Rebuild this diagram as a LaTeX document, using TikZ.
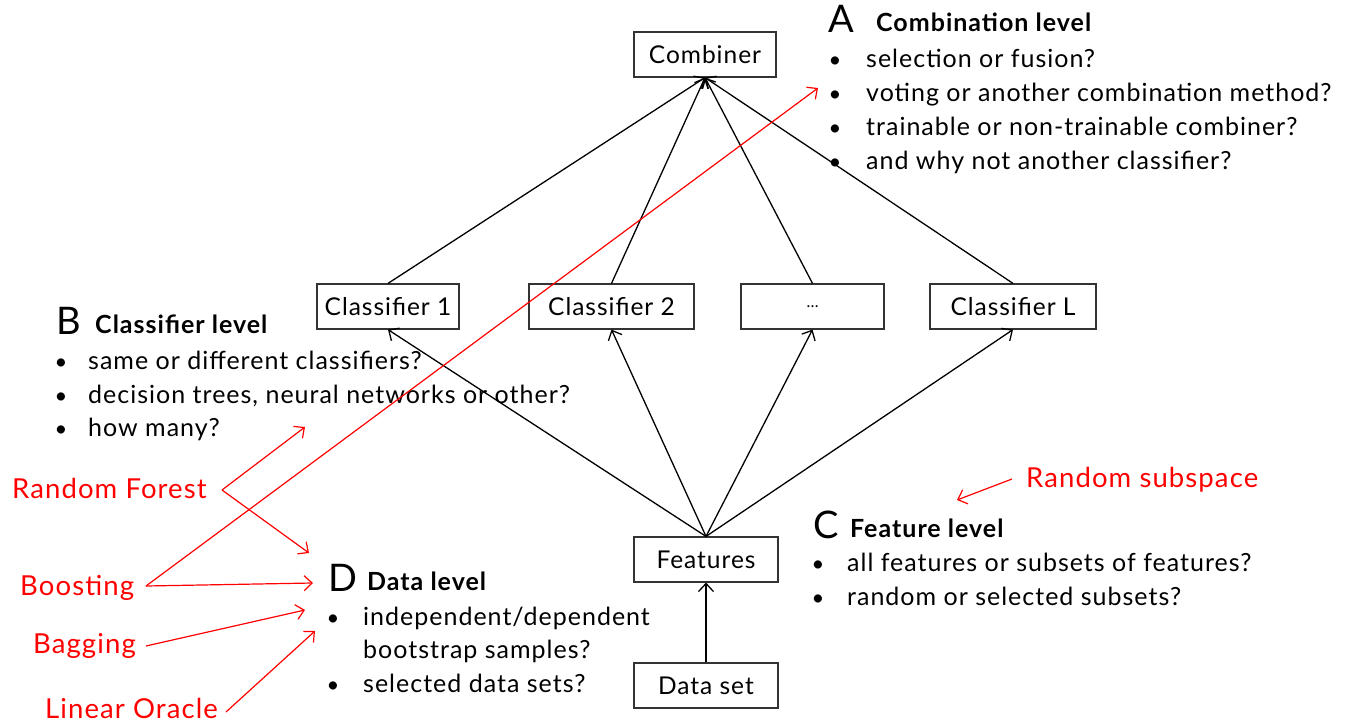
\documentclass[tikz,border=0pt]{standalone}
\usepackage{fontspec}
\setmainfont{Lato}[LetterSpace=4]
\usetikzlibrary{arrows.meta}
\begin{document}
\begin{tikzpicture}[x=1pt,y=-1pt,
  box/.style={draw=black!80, line width=1.2pt, minimum height=45pt, inner sep=0pt,
    font=\fontsize{24.5}{28}\selectfont},
  link/.style={line width=1.3pt, -{Straight Barb[length=8pt,width=15pt,line width=1.3pt]}},
  hint/.style={red, line width=1.2pt, -{Straight Barb[length=8pt,width=15pt,line width=1.2pt]}},
  txt/.style={anchor=base west, inner sep=0pt, font=\fontsize{25}{29}\selectfont},
  dot/.style={anchor=base, inner sep=0pt, font=\fontsize{22}{26}\selectfont},
  head/.style={anchor=base west, inner sep=0pt, font=\fontsize{25}{29}\selectfont\bfseries},
  letter/.style={anchor=base west, inner sep=0pt, font=\fontsize{38}{42}\selectfont},
  redlbl/.style={anchor=base west, inner sep=0pt, text=red, font=\fontsize{27.5}{32}\selectfont}]
\useasboundingbox (0,0) rectangle (1347,725);

% ensemble structure
\node[box, minimum width=142pt] (comb) at (705,54.5) {Combiner};
\node[box, minimum width=142pt] (c1) at (388,306.5) {Classifier 1};
\node[box, minimum width=165pt] (c2) at (611.5,306.5) {Classifier 2};
\node[box, minimum width=143pt] (cdots) at (812.5,306.5) {\fontsize{16}{20}\selectfont\dots};
\node[box, minimum width=166pt] (cL) at (1013,306.5) {Classifier L};
\node[box, minimum width=144pt] (feat) at (706,559.5) {Features};
\node[box, minimum width=144pt] (data) at (706,685.5) {Data set};

\foreach \c in {c1,c2,cdots,cL} {
  \draw[link] (\c.north) -- (comb.south);
  \draw[link] (feat.north) -- (\c.south);
}
\draw[link] (data.north) -- (feat.south);

% A: combination level
\node[letter] (lA) at (828,33) {A};
\node[head] (hA) at (876,32) {Combination level};
\foreach \t [count=\i] in {selection or fusion?, voting or another combination method?,
    trainable or non-trainable combiner?, and why not another classifier?} {
  \node[dot] (bA\i) at (835,{33+34*\i}) {•};
  \node[txt] (tA\i) at (866,{33+34*\i}) {\t};
}

% B: classifier level
\node[letter] (lB) at (56,334) {B};
\node[head] (hB) at (95,333) {Classifier level};
\foreach \t [count=\i] in {same or different classifiers?, {decision trees, neural networks or other?},
    how many?} {
  \node[dot] (bB\i) at (61,{336+33.5*\i}) {•};
  \node[txt] (tB\i) at (88,{336+33.5*\i}) {\t};
}

% C: feature level
\node[letter] (lC) at (813,538) {C};
\node[head] (hC) at (850,537) {Feature level};
\node[dot] (bC1) at (818,571) {•};
\node[txt] (tC1) at (847,571) {all features or subsets of features?};
\node[dot] (bC2) at (818,605) {•};
\node[txt] (tC2) at (847,605) {random or selected subsets?};

% D: data level
\node[letter] (lD) at (328,591) {D};
\node[head] (hD) at (367,590) {Data level};
\node[dot] (bD1) at (333,625) {•};
\node[txt] (tD1) at (363,625) {independent/dependent};
\node[txt] (tD1b) at (363,658) {bootstrap samples?};
\node[dot] (bD2) at (333,692) {•};
\node[txt] (tD2) at (363,692) {selected data sets?};

% ensemble methods and the levels they act on
\node[redlbl] (rf) at (12,498) {Random Forest};
\node[redlbl] (boost) at (20,595) {Boosting};
\node[redlbl] (bag) at (33,653) {Bagging};
\node[redlbl] (lo) at (45,718) {Linear Oracle};
\node[redlbl] (rs) at (1026,487) {Random subspace};

\coordinate (rfv) at (222,490);
\coordinate (bov) at (146,586);
\coordinate (toB) at (305,427);
\coordinate (toD1) at (309,553);
\coordinate (toA) at (818,88);
\coordinate (toD2) at (313,583);
\coordinate (toD3) at (305,610);
\coordinate (toD4) at (315,631);
\coordinate (toC) at (957,500);
\coordinate (bagend) at (146,646);
\coordinate (loend) at (226,712);
\coordinate (rsend) at (1012,479);

\draw[hint] (rfv) -- (toB);
\draw[hint] (rfv) -- (toD1);
\draw[hint] (bov) -- (toA);
\draw[hint] (bov) -- (toD2);
\draw[hint] (bagend) -- (toD3);
\draw[hint] (loend) -- (toD4);
\draw[hint] (rsend) -- (toC);
\end{tikzpicture}
\end{document}
